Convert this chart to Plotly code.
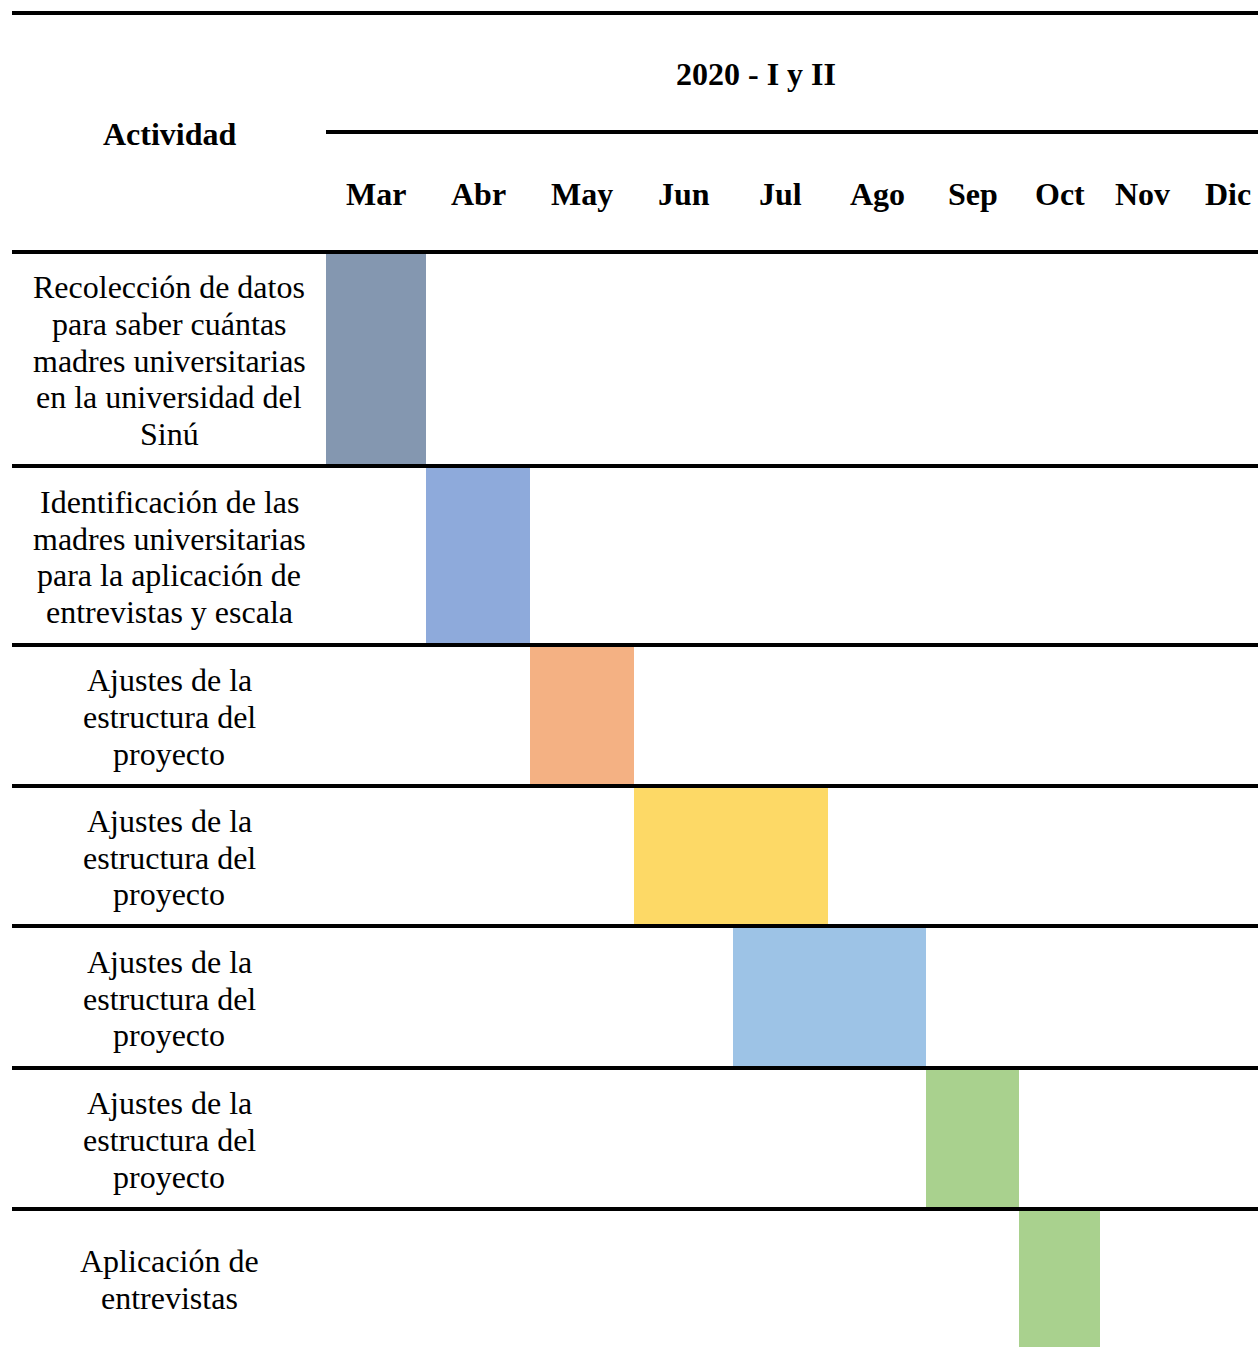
import plotly.graph_objects as go

# ---------------- data ----------------
months = ["Mar", "Abr", "May", "Jun", "Jul", "Ago", "Sep", "Oct", "Nov", "Dic"]
period_label = "2020 - I y II"
header_activity = "Actividad"
activities = [
    ["Recolección de datos", "para saber cuántas", "madres universitarias", "en la universidad del", "Sinú"],
    ["Identificación de las", "madres universitarias", "para la aplicación de", "entrevistas y escala"],
    ["Ajustes de la", "estructura del", "proyecto"],
    ["Ajustes de la", "estructura del", "proyecto"],
    ["Ajustes de la", "estructura del", "proyecto"],
    ["Ajustes de la", "estructura del", "proyecto"],
    ["Aplicación de", "entrevistas"],
]
start_month = ["Mar", "Abr", "May", "Jun", "Jul", "Sep", "Oct"]
duration_months = [1, 1, 1, 2, 2, 1, 1]
bar_colors = ["#8497B0", "#8EAADB", "#F4B183", "#FDD966", "#9DC3E6", "#A9D18E", "#A9D18E"]

# ---------------- layout (pixel geometry of the table) ----------------
W, H = 1258, 1347
col_edges = [326, 426, 530, 634, 733, 828, 926, 1019, 1100, 1185, 1270]
row_edges = [252, 466, 645, 786, 926, 1068, 1209, 1347]
left_x, right_x = 12, 1258
text_center_x = 169
line_step = 36.7
FONT = "Liberation Serif, Times New Roman, serif"
FS = 32

row_centers = [(row_edges[i] + row_edges[i + 1]) / 2 for i in range(len(activities))]
row_heights = [row_edges[i + 1] - row_edges[i] for i in range(len(activities))]
starts = [col_edges[months.index(m)] for m in start_month]
ends = [col_edges[months.index(m) + d] for m, d in zip(start_month, duration_months)]

fig = go.Figure()
fig.add_trace(go.Bar(
    orientation="h",
    y=row_centers,
    base=starts,
    x=[e - s for s, e in zip(starts, ends)],
    width=row_heights,
    marker=dict(color=bar_colors, line=dict(width=0)),
    hoverinfo="skip",
    showlegend=False,
))

# table rules
lw = 4
lines = [(13, left_x, right_x), (132, 326, right_x), (252, left_x, right_x)]
lines += [(y, left_x, right_x) for y in row_edges[1:-1]]
for y, x0, x1 in lines:
    fig.add_shape(type="line", xref="x", yref="y", x0=x0, x1=x1, y0=y, y1=y,
                  line=dict(color="black", width=lw), layer="above")

# header texts
fig.add_annotation(x=170, y=134, text="<b>%s</b>" % header_activity, showarrow=False,
                   font=dict(family=FONT, size=FS, color="black"), xanchor="center", yanchor="middle")
fig.add_annotation(x=756, y=74, text="<b>%s</b>" % period_label, showarrow=False,
                   font=dict(family=FONT, size=FS, color="black"), xanchor="center", yanchor="middle")
for i, m in enumerate(months):
    fig.add_annotation(x=(col_edges[i] + col_edges[i + 1]) / 2, y=194, text="<b>%s</b>" % m,
                       showarrow=False, font=dict(family=FONT, size=FS, color="black"),
                       xanchor="center", yanchor="middle")

# activity texts, line by line
for rc, lines_txt in zip(row_centers, activities):
    n = len(lines_txt)
    for k, t in enumerate(lines_txt):
        y = rc + 1.5 + (k - (n - 1) / 2) * line_step
        fig.add_annotation(x=text_center_x, y=y, text=t, showarrow=False,
                           font=dict(family=FONT, size=FS, color="black"),
                           xanchor="center", yanchor="middle")

fig.update_layout(
    width=W, height=H,
    margin=dict(l=0, r=0, t=0, b=0),
    paper_bgcolor="white", plot_bgcolor="white",
    xaxis=dict(range=[0, W], visible=False, fixedrange=True),
    yaxis=dict(range=[H, 0], visible=False, fixedrange=True),
    bargap=0,
)
fig.write_html("out.html", config={"displayModeBar": False},
               post_script="document.body.style.margin='0';document.body.style.overflow='hidden';")
